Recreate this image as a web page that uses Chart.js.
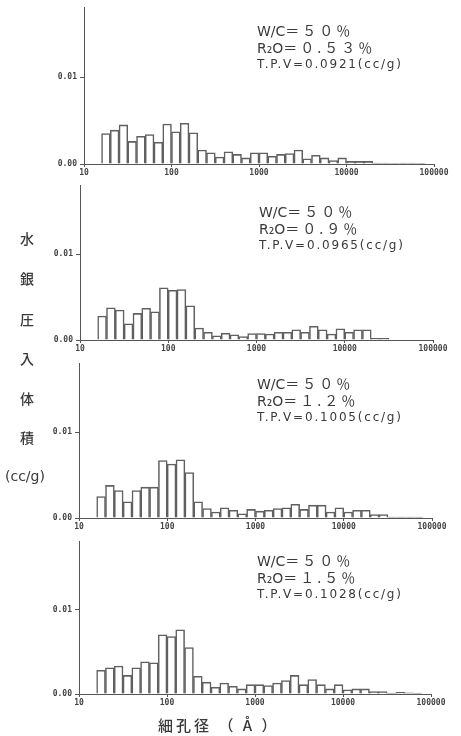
<!DOCTYPE html>
<html>
<head>
<meta charset="utf-8">
<script src="https://cdn.jsdelivr.net/npm/chart.js@4/dist/chart.umd.min.js"></script>
<style>
  html, body { margin:0; padding:0; background:#ffffff; }
  #wrap { position:relative; width:461px; height:736px; overflow:hidden; background:#ffffff; }
  canvas { position:absolute; left:0; }
  .note { position:absolute; color:#3a3a3a; white-space:nowrap; font-family:"DejaVu Sans","Noto Sans CJK JP",sans-serif; }
  .l1, .l2 { font-size:14px; line-height:16px; }
  .fw { font-family:"Noto Sans CJK JP",sans-serif; letter-spacing:3px; }
  .l3 { font-size:12px; line-height:16px; letter-spacing:1.8px; }
  .ylab { position:absolute; color:#3a3a3a; font-family:"Noto Sans CJK JP",sans-serif; font-size:14px; line-height:14px; font-weight:500; }
  .xtitle { position:absolute; color:#3a3a3a; font-family:"Noto Sans CJK JP",sans-serif; font-size:15px; letter-spacing:3px; white-space:pre; font-weight:500; }
</style>
</head>
<body>
<div id="wrap">
  <canvas id="c1" width="461" height="180"></canvas>
  <canvas id="c2" width="461" height="178"></canvas>
  <canvas id="c3" width="461" height="178"></canvas>
  <canvas id="c4" width="461" height="176"></canvas>
</div>
<script>
// ---- data ----
// pore diameter (Å), bin centres of the histogram (0.1-decade bins from ~16 Å)
const poreDiameters = [17.8, 22.4, 28.2, 35.5, 44.7, 56.2, 70.8, 89.1, 112, 141, 178, 224, 282, 355, 447, 562, 708, 891, 1122, 1413, 1778, 2239, 2818, 3548, 4467, 5623, 7079, 8913, 11220, 14125, 17783, 22387, 28184, 35481, 44668, 56234, 70795];

// mercury intrusion volume (cc/g) per bin
const volR2O053 = [0.0035, 0.0039, 0.0045, 0.0026, 0.0032, 0.0034, 0.0025, 0.0046, 0.0037, 0.0047, 0.0036, 0.0016, 0.0013, 0.0008, 0.0014, 0.0011, 0.0007, 0.0013, 0.0013, 0.0009, 0.0011, 0.0012, 0.0016, 0.0006, 0.0010, 0.0007, 0.0004, 0.0007, 0.0003, 0.0003, 0.0003, 0.0001, 0.0001, 0.00005, 0.0001, 0.0001, 0.00005];
const volR2O09  = [0.0028, 0.00375, 0.0035, 0.0019, 0.0031, 0.0037, 0.0033, 0.0061, 0.0058, 0.0059, 0.0040, 0.0014, 0.0009, 0.0005, 0.0008, 0.0006, 0.0004, 0.00075, 0.00075, 0.0007, 0.0009, 0.0009, 0.0012, 0.0009, 0.0016, 0.0012, 0.0007, 0.0013, 0.0009, 0.0012, 0.0012, 0.0002, 0.0002];
const volR2O12  = [0.0025, 0.0038, 0.0032, 0.0019, 0.0032, 0.0036, 0.0036, 0.0067, 0.0063, 0.0068, 0.0053, 0.0019, 0.0011, 0.0007, 0.0012, 0.0009, 0.0005, 0.0010, 0.0008, 0.0009, 0.0011, 0.0012, 0.0016, 0.0010, 0.0015, 0.0015, 0.0007, 0.0012, 0.0007, 0.0009, 0.0009, 0.0004, 0.0004, 0.0001, 0.0001, 0.0001, 0.0001];
const volR2O15  = [0.0028, 0.0031, 0.0033, 0.0022, 0.0031, 0.0038, 0.0037, 0.0070, 0.0068, 0.0076, 0.0055, 0.0021, 0.0014, 0.0008, 0.0013, 0.0009, 0.0006, 0.0011, 0.0011, 0.0010, 0.0013, 0.0016, 0.0022, 0.0011, 0.0017, 0.0011, 0.0006, 0.0011, 0.0005, 0.0006, 0.0006, 0.0003, 0.0003, 0.0001, 0.0002, 0.00015, 0.0001];

const xTickValues = [10, 100, 1000, 10000, 100000];
const yTickValues = [0, 0.01];

const panelLabels = [
  ["W/C", "＝５０％", "R₂O", "＝０.５３％", "T.P.V=0.0921(cc/g)"],
  ["W/C", "＝５０％", "R₂O", "＝０.９％",   "T.P.V=0.0965(cc/g)"],
  ["W/C", "＝５０％", "R₂O", "＝１.２％",   "T.P.V=0.1005(cc/g)"],
  ["W/C", "＝５０％", "R₂O", "＝１.５％",   "T.P.V=0.1028(cc/g)"]
];
const yTitleChars = ["水", "銀", "圧", "入", "体", "積"];
const yTitleUnit = "(cc/g)";
const xTitle = "細孔径 （ Å ）";

// ---- layout (pixels) ----
const panels = [
  { id:"c1", top:0,   height:180, zeroY:164, axisX:84, rightX:434, vals:volR2O053, noteX:257, noteY:22 },
  { id:"c2", top:178, height:178, zeroY:340, axisX:80, rightX:433, vals:volR2O09,  noteX:259, noteY:203 },
  { id:"c3", top:356, height:178, zeroY:518, axisX:79, rightX:432, vals:volR2O12,  noteX:257, noteY:375 },
  { id:"c4", top:534, height:176, zeroY:694, axisX:79, rightX:431, vals:volR2O15,  noteX:257, noteY:552 }
];
const YMAX = 0.018, PX_PER_UNIT = 8800;
const lineColor = "#606060";
const axisColor = "#555555";
const textColor = "#444444";
const tickFont = { family: "DejaVu Sans Mono", size: 8, weight: "bold" };

const wrap = document.getElementById("wrap");

panels.forEach((p, idx) => {
  const cv = document.getElementById(p.id);
  cv.style.top = p.top + "px";
  const areaTop = p.zeroY - YMAX * PX_PER_UNIT;
  const padTop = areaTop - p.top;
  const xAxisH = p.top + p.height - p.zeroY;
  new Chart(cv, {
    type: "bar",
    data: {
      datasets: [{
        data: p.vals.map((v, i) => ({ x: poreDiameters[i], y: v })),
        backgroundColor: "rgba(255,255,255,0)",
        borderColor: lineColor,
        borderWidth: 0.9,
        barThickness: "flex",
        barPercentage: 1,
        categoryPercentage: 1
      }]
    },
    options: {
      responsive: false,
      animation: false,
      devicePixelRatio: 1,
      layout: { padding: { top: padTop, left: 0, right: 461 - p.rightX, bottom: 0 } },
      plugins: { legend: { display: false }, tooltip: { enabled: false } },
      scales: {
        x: {
          type: "logarithmic",
          min: 10, max: 100000,
          offset: false,
          afterBuildTicks: s => { s.ticks = xTickValues.map(v => ({ value: v })); },
          afterFit: s => { s.height = xAxisH; },
          ticks: { callback: v => String(v), font: tickFont, color: textColor, maxRotation: 0, autoSkip: false, padding: 1 },
          grid: { display: true, drawOnChartArea: false, drawTicks: true, tickLength: 3, color: axisColor, offset: false },
          border: { display: true, color: axisColor, width: 1 }
        },
        y: {
          type: "linear",
          min: 0, max: YMAX,
          afterBuildTicks: s => { s.ticks = yTickValues.map(v => ({ value: v })); },
          afterFit: s => { s.width = p.axisX; },
          ticks: { callback: v => Number(v).toFixed(2), font: tickFont, color: textColor, padding: 3 },
          grid: { display: true, drawOnChartArea: false, drawTicks: true, tickLength: 4, color: axisColor },
          border: { display: true, color: axisColor, width: 1 }
        }
      }
    }
  });

  const lab = panelLabels[idx];
  const note = document.createElement("div");
  note.className = "note";
  note.style.left = p.noteX + "px";
  note.style.top = p.noteY + "px";
  note.innerHTML =
    '<div class="l1">' + lab[0] + '<span class="fw">' + lab[1] + '</span></div>' +
    '<div class="l2">' + lab[2] + '<span class="fw">' + lab[3] + '</span></div>' +
    '<div class="l3">' + lab[4] + '</div>';
  wrap.appendChild(note);
});

// y-axis title (vertical)
const yCenters = [238, 278, 319, 358, 398, 437];
yTitleChars.forEach((ch, i) => {
  const d = document.createElement("div");
  d.className = "ylab";
  d.textContent = ch;
  d.style.left = "20px";
  d.style.top = (yCenters[i] - 7) + "px";
  wrap.appendChild(d);
});
const unit = document.createElement("div");
unit.className = "ylab";
unit.style.fontFamily = "DejaVu Sans, sans-serif";
unit.style.fontSize = "14px";
unit.textContent = yTitleUnit;
unit.style.left = "5px";
unit.style.top = "469px";
wrap.appendChild(unit);

const xt = document.createElement("div");
xt.className = "xtitle";
xt.textContent = xTitle;
xt.style.left = "158px";
xt.style.top = "714px";
wrap.appendChild(xt);
</script>
</body>
</html>
